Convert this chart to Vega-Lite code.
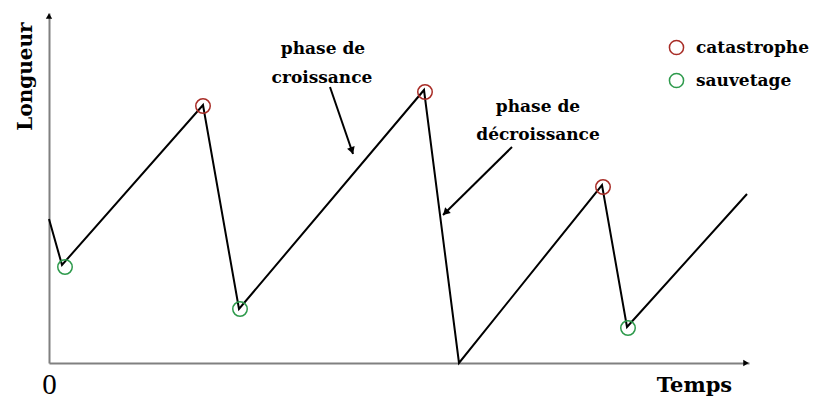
{
  "$schema": "https://vega.github.io/schema/vega-lite/v6.json",
  "width": 700,
  "height": 350,
  "autosize": "none",
  "padding": {"left": 49, "top": 13, "right": 64, "bottom": 36},
  "background": "white",
  "config": {"view": {"stroke": null}},
  "datasets": {
    "track": [
      {"t": 0, "len": 144},
      {"t": 13, "len": 98},
      {"t": 154, "len": 258},
      {"t": 190, "len": 54},
      {"t": 375, "len": 273},
      {"t": 410, "len": 0},
      {"t": 553, "len": 178},
      {"t": 578, "len": 36},
      {"t": 698, "len": 169}
    ],
    "events": [
      {"t": 16, "len": 96, "type": "sauvetage"},
      {"t": 154, "len": 257, "type": "catastrophe"},
      {"t": 191, "len": 54, "type": "sauvetage"},
      {"t": 376, "len": 271, "type": "catastrophe"},
      {"t": 554, "len": 176, "type": "catastrophe"},
      {"t": 579, "len": 35, "type": "sauvetage"}
    ],
    "notes": [
      {"t": 274, "len": 309, "label": "phase de"},
      {"t": 273, "len": 280, "label": "croissance"},
      {"t": 489, "len": 251, "label": "phase de"},
      {"t": 489, "len": 223, "label": "décroissance"}
    ],
    "arrows": [
      {"t": 281, "len": 276, "t2": 304, "len2": 209},
      {"t": 463, "len": 216, "t2": 394, "len2": 148}
    ],
    "heads": [
      {"t": 303, "len": 212.3, "kind": "croissance"},
      {"t": 396.5, "len": 150.5, "kind": "decroissance"},
      {"t": 0, "len": 347, "kind": "yaxis"},
      {"t": 697, "len": 0, "kind": "xaxis"}
    ]
  },
  "encoding": {
    "x": {
      "field": "t",
      "type": "quantitative",
      "scale": {"domain": [0, 700], "nice": false, "zero": false},
      "axis": {
        "title": "Temps",
        "values": [0],
        "ticks": false,
        "grid": false,
        "domainColor": "#808080",
        "domainWidth": 2,
        "labelFont": "Liberation Serif",
        "labelFontSize": 29,
        "labelColor": "black",
        "labelPadding": 7,
        "labelFlush": false,
        "titleFont": "DejaVu Serif",
        "titleFontSize": 21,
        "titleFontWeight": "bold",
        "titleColor": "black",
        "titleX": 645,
        "titleY": 28,
        "titleAlign": "center",
        "titleBaseline": "alphabetic"
      }
    },
    "y": {
      "field": "len",
      "type": "quantitative",
      "scale": {"domain": [0, 350], "nice": false, "zero": false},
      "axis": {
        "title": "Longueur",
        "labels": false,
        "ticks": false,
        "grid": false,
        "domainColor": "#808080",
        "domainWidth": 2,
        "titleFont": "DejaVu Serif",
        "titleFontSize": 20,
        "titleFontWeight": "bold",
        "titleColor": "black",
        "titleX": -18,
        "titleY": 63,
        "titleAngle": 270,
        "titleAlign": "center",
        "titleBaseline": "alphabetic"
      }
    }
  },
  "layer": [
    {
      "data": {"name": "track"},
      "mark": {"type": "line", "color": "black", "strokeWidth": 2},
      "encoding": {"order": {"field": "t", "type": "quantitative"}}
    },
    {
      "data": {"name": "events"},
      "mark": {"type": "point", "shape": "circle", "filled": false, "size": 210, "strokeWidth": 1.5, "opacity": 1},
      "encoding": {
        "color": {
          "field": "type",
          "type": "nominal",
          "scale": {"domain": ["catastrophe", "sauvetage"], "range": ["#a82c26", "#2e9a4c"]},
          "legend": {
            "orient": "none",
            "legendX": 619,
            "legendY": 26,
            "title": null,
            "padding": 0,
            "symbolType": "circle",
            "symbolSize": 200,
            "symbolStrokeWidth": 1.5,
            "labelFont": "DejaVu Serif",
            "labelFontWeight": "bold",
            "labelFontSize": 17,
            "labelColor": "black",
            "labelOffset": 11,
            "rowPadding": 12
          }
        }
      }
    },
    {
      "data": {"name": "notes"},
      "mark": {"type": "text", "font": "DejaVu Serif", "fontWeight": "bold", "fontSize": 17, "align": "center", "baseline": "alphabetic", "color": "black"},
      "encoding": {"text": {"field": "label", "type": "nominal"}}
    },
    {
      "data": {"name": "arrows"},
      "mark": {"type": "rule", "color": "black", "strokeWidth": 2},
      "encoding": {
        "x2": {"field": "t2"},
        "y2": {"field": "len2"}
      }
    },
    {
      "data": {"name": "heads"},
      "transform": [{"filter": "datum.kind === 'croissance'"}],
      "mark": {"type": "point", "shape": "triangle-up", "filled": true, "color": "black", "opacity": 1, "size": 64, "angle": 161}
    },
    {
      "data": {"name": "heads"},
      "transform": [{"filter": "datum.kind === 'decroissance'"}],
      "mark": {"type": "point", "shape": "triangle-up", "filled": true, "color": "black", "opacity": 1, "size": 64, "angle": 225}
    },
    {
      "data": {"name": "heads"},
      "transform": [{"filter": "datum.kind === 'yaxis'"}],
      "mark": {"type": "point", "shape": "triangle-up", "filled": true, "color": "black", "opacity": 1, "size": 40, "angle": 0}
    },
    {
      "data": {"name": "heads"},
      "transform": [{"filter": "datum.kind === 'xaxis'"}],
      "mark": {"type": "point", "shape": "triangle-up", "filled": true, "color": "black", "opacity": 1, "size": 40, "angle": 90}
    }
  ]
}
